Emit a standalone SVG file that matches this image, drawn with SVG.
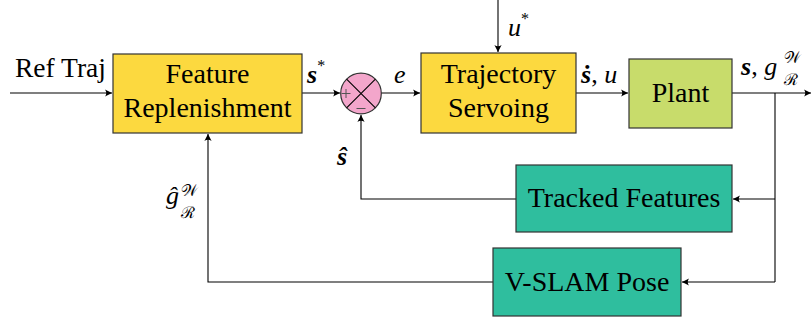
<svg xmlns="http://www.w3.org/2000/svg" width="812" height="320" viewBox="0 0 812 320">
<style>
.box{stroke:#333;stroke-width:1.2}
.yel{fill:#FCD93F}
.grn{fill:#C8DC6B}
.teal{fill:#2FBE9E}
.lbl{font-size:28px;fill:#000;text-anchor:middle}
.txt{font-size:27.5px;fill:#000}
.m{font-size:26px;font-style:italic;fill:#000}
.mb{font-size:26px;font-style:italic;font-weight:bold;fill:#000}
.sup{font-size:16px}
.sc{font-size:16px;font-style:normal;fill:#000}
.w{fill:none;stroke:#000;stroke-width:1.1}
</style>
<defs>
<marker id="ar" markerUnits="userSpaceOnUse" viewBox="-8 -5 9 10" refX="0" refY="0" markerWidth="9" markerHeight="10" orient="auto">
<path d="M0,0 L-7,-3.6 Q-4.5,0 -7,3.6 Z" fill="#000"/>
</marker>
</defs>
<g id="connectors" class="w">
<path d="M10,93 H112" marker-end="url(#ar)"/>
<path d="M302,93 H340" marker-end="url(#ar)"/>
<path d="M381,93 H420" marker-end="url(#ar)"/>
<path d="M498,0 V52" marker-end="url(#ar)"/>
<path d="M576,93 H628" marker-end="url(#ar)"/>
<path d="M732,93 H811" marker-end="url(#ar)"/>
<path d="M775,93 V282"/>
<path d="M775,199 H733" marker-end="url(#ar)"/>
<path d="M775,282 H682" marker-end="url(#ar)"/>
<path d="M516,199 H361 V115" marker-end="url(#ar)"/>
<path d="M493,282 H208 V134" marker-end="url(#ar)"/>
</g>
<g font-family="Liberation Serif, Times New Roman, serif">
<g id="feature-replenishment">
<rect class="box yel" x="113" y="54" width="189" height="79"/>
<text class="lbl" x="207.5" y="83">Feature</text>
<text class="lbl" x="207.5" y="117">Replenishment</text>
</g>
<g id="sum">
<circle cx="361" cy="93.5" r="20.3" fill="#F3A6CB" stroke="#333" stroke-width="1.2"/>
<path d="M346.6,79.1 L375.4,107.9 M375.4,79.1 L346.6,107.9" stroke="#000" stroke-width="1.1"/>
<path d="M341.5,93.5 H350.5 M346,89 V98" stroke="#555" stroke-width="1"/>
<path d="M356.5,108.5 H365.5" stroke="#555" stroke-width="1"/>
</g>
<g id="trajectory-servoing">
<rect class="box yel" x="421" y="53" width="155" height="80"/>
<text class="lbl" x="498.5" y="83">Trajectory</text>
<text class="lbl" x="498.5" y="117">Servoing</text>
</g>
<g id="plant">
<rect class="box grn" x="629" y="59" width="103" height="69"/>
<text class="lbl" x="680.5" y="102">Plant</text>
</g>
<g id="tracked-features">
<rect class="box teal" x="516" y="165" width="216" height="67"/>
<text class="lbl" x="624" y="207">Tracked Features</text>
</g>
<g id="vslam-pose">
<rect class="box teal" x="493" y="248" width="188" height="68"/>
<text class="lbl" x="587" y="291">V-SLAM Pose</text>
</g>
<g id="labels">
<text class="txt" x="15" y="77">Ref Traj</text>
<text class="mb" x="307" y="83">s<tspan class="sup" dy="-12" font-weight="normal" font-style="normal">*</tspan></text>
<text class="m" x="394" y="83">e</text>
<text class="m" x="508" y="36">u<tspan class="sup" dy="-12" font-style="normal">*</tspan></text>
<text class="mb" x="581" y="83">ṡ<tspan font-weight="normal" font-style="normal">,</tspan><tspan font-weight="normal"> u</tspan></text>
<text class="mb" x="741" y="75">s<tspan font-weight="normal" font-style="normal">,</tspan><tspan font-weight="normal"> g</tspan></text>
<text class="sc" x="784" y="63">𝒲</text>
<text class="sc" x="784" y="85">ℛ</text>
<text class="mb" x="337" y="165">ŝ</text>
<text class="m" x="166" y="204">ĝ</text>
<text class="sc" x="181" y="196">𝒲</text>
<text class="sc" x="181" y="218">ℛ</text>
</g>
</g>
</svg>
